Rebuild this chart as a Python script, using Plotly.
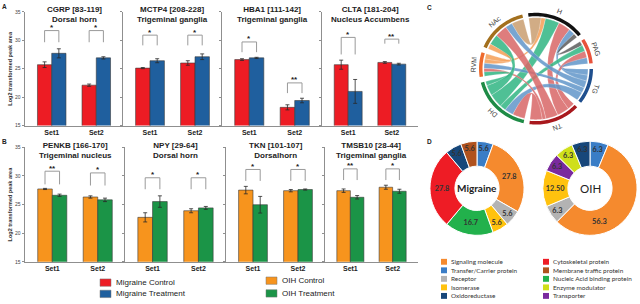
import numpy as np
import plotly.graph_objects as go

# ---------------- data ----------------
sets = ["Set1", "Set2"]

a_titles = ["CGRP [83-119]<br>Dorsal horn", "MCTP4 [208-228]<br>Trigeminal ganglia",
            "HBA1 [111-142]<br>Trigeminal ganglia", "CLTA [181-204]<br>Nucleus Accumbens"]
migraine_control = [[25.7, 22.1], [25.1, 26.0], [26.6, 18.2], [25.7, 26.1]]
migraine_control_err = [[0.5, 0.2], [0.1, 0.4], [0.15, 0.45], [0.8, 0.15]]
migraine_treatment = [[27.7, 26.9], [26.4, 27.1], [26.9, 19.4], [21.0, 25.8]]
migraine_treatment_err = [[0.8, 0.2], [0.35, 0.5], [0.1, 0.4], [2.1, 0.15]]
migraine_sig = [["*", "*"], ["*", "*"], ["*", "**"], ["*", "**"]]

b_titles = ["PENKB [166-170]<br>Trigeminal nucleus", "NPY [29-64]<br>Dorsal horn",
            "TKN [101-107]<br>Dorsalhorn", "TMSB10 [28-44]<br>Trigeminal ganglia"]
oih_control = [[27.7, 26.3], [22.75, 23.9], [27.5, 27.4], [27.4, 28.0]]
oih_control_err = [[0.1, 0.2], [0.8, 0.35], [0.65, 0.2], [0.3, 0.35]]
oih_treatment = [[26.6, 25.8], [25.5, 24.4], [24.95, 27.6], [26.25, 27.3]]
oih_treatment_err = [[0.2, 0.3], [1.0, 0.25], [1.45, 0.1], [0.3, 0.35]]
oih_sig = [["**", "*"], ["*", "*"], ["*", "*"], ["**", "*"]]

y_ticks = [15, 20, 25, 30, 35]

chord_regions = ["H", "PAG", "TG", "TN", "DH", "RVM", "NAc"]
chord_links = [
    ("H", "NAc", 14, "tan"), ("H", "RVM", 5, "orange"), ("H", "DH", 16, "teal"),
    ("H", "TN", 14, "salmon"), ("H", "TG", 7, "blue"), ("H", "PAG", 5, "gray"),
    ("PAG", "TN", 8, "salmon"), ("PAG", "DH", 7, "teal"), ("PAG", "TG", 7, "blue"),
    ("TG", "DH", 10, "blue"), ("TG", "RVM", 6, "blue"), ("TG", "NAc", 8, "blue"),
    ("TN", "DH", 14, "salmon"), ("TN", "NAc", 14, "salmon"), ("TN", "RVM", 4, "salmon"),
    ("DH", "RVM", 5, "teal"), ("DH", "NAc", 12, "teal"), ("RVM", "NAc", 6, "orange"),
]

migraine_classes = ["Transfer/Carrier protein", "Signaling molecule", "Receptor", "Isomerase",
                    "Nucleic Acid binding protein", "Cytoskeletal protein", "Oxidoreductase",
                    "Membrane traffic protein"]
migraine_pct = [5.6, 27.8, 5.6, 5.6, 16.7, 27.8, 5.6, 5.6]
migraine_text = ["5.6", "27.8", "5.6", "5.6", "16.7", "27.8", "5.6", "5.6"]
oih_classes = ["Transfer/Carrier protein", "Signaling molecule", "Receptor", "Isomerase",
               "Transporter", "Enzyme modulator", "Oxidoreductase"]
oih_pct = [6.3, 56.3, 6.3, 12.5, 6.3, 6.3, 6.3]
oih_text = ["6.3", "56.3", "6.3", "12.50", "6.3", "6.3", "6.3"]

legend_col1 = ["Signaling molecule", "Transfer/Carrier protein", "Receptor", "Isomerase", "Oxidoreductase"]
legend_col2 = ["Cytoskeletal protein", "Membrane traffic protein", "Nucleic Acid binding protein",
               "Enzyme modulator", "Transporter"]

# ---------------- styles / layout ----------------
W, H = 640, 304
FONT = "Arial, Liberation Sans, sans-serif"
FONT_D = "Lato, Open Sans, sans-serif"
RED, BLUE, ORANGE, GREEN = "#ED1C24", "#1F5F9E", "#F7941D", "#1B9447"
AXC = "#8f8f8f"

class_colors = {
    "Signaling molecule": "#F58A2E", "Transfer/Carrier protein": "#3A7DC6",
    "Receptor": "#B3B3B3", "Isomerase": "#FFC20E", "Oxidoreductase": "#17477A",
    "Cytoskeletal protein": "#EE1C25", "Membrane traffic protein": "#B0521E",
    "Nucleic Acid binding protein": "#22B14C", "Enzyme modulator": "#CFDF1A",
    "Transporter": "#7A2A9E",
}
chord_region_colors = {"H": "#111111", "PAG": "#E8533C", "TG": "#1F4F8E", "TN": "#A8181D",
                       "DH": "#1E8B46", "RVM": "#EE6A2D", "NAc": "#A3701E"}
ribbon_colors = {"teal": "rgba(50,182,132,0.86)", "salmon": "rgba(216,104,104,0.86)",
                 "blue": "rgba(98,150,202,0.86)", "tan": "rgba(203,160,116,0.88)",
                 "orange": "rgba(245,158,86,0.86)", "gray": "rgba(85,85,85,0.82)"}


def px(x):
    return x / W


def py(y):
    return 1 - y / H


def ann(x, y, text, size, color="#222", family=FONT, xanchor="center", yanchor="middle", **kw):
    fig.add_annotation(x=px(x), y=py(y), xref="paper", yref="paper", text=text, showarrow=False,
                       xanchor=xanchor, yanchor=yanchor,
                       font=dict(size=size, color=color, family=family), **kw)


A_DOM = [(25, 123), (123, 222), (222, 322), (322, 418)]
B_DOM = [(25, 125), (125, 226), (226, 325), (325, 418)]
A_Y = (9, 125)
B_Y = (147, 264)
BW = 0.32
XR = [-0.6, 1.6]

A_BRACKETS = [[(29.65, 31.7), (29.65, 31.7)], [(29.1, 30.9), (29.1, 30.9)],
              [(27.9, 29.7), (20.7, 22.5)], [(27.5, 30.5), (29.4, 30.2)]]
B_BRACKETS = [[(28.5, 30.8), (28.3, 30.5)], [(27.65, 29.65), (27.65, 29.65)],
              [(29.1, 31.1), (29.1, 31.1)], [(29.25, 31.2), (29.25, 31.2)]]

fig = go.Figure()
layout_axes = {}


def add_panel(n, dom, ydom, ctrl, cerr, trt, terr, ccol, tcol, title, sig, brackets):
    xa = "x" if n == 1 else f"x{n}"
    ya = "y" if n == 1 else f"y{n}"
    xs = list(range(len(sets)))
    for vals, errs, col, off in ((ctrl, cerr, ccol, -BW), (trt, terr, tcol, 0.0)):
        fig.add_trace(go.Bar(
            x=xs, y=vals, width=BW, offset=off, xaxis=xa, yaxis=ya,
            marker=dict(color=col, line=dict(color="#3a3a3a", width=0.6)),
            error_y=dict(type="data", array=errs, color="#2a2a2a", thickness=0.8, width=2),
            showlegend=False, hoverinfo="skip"))
    first = dom[0] == 25
    layout_axes["xaxis" if n == 1 else f"xaxis{n}"] = dict(
        domain=[px(dom[0]), px(dom[1])], range=XR, anchor=ya,
        tickvals=xs, ticktext=[f"<b>{s}</b>" for s in sets],
        tickfont=dict(size=7, color="#222", family=FONT), ticklen=0,
        showline=True, linecolor=AXC, linewidth=1, showgrid=False, zeroline=False)
    layout_axes["yaxis" if n == 1 else f"yaxis{n}"] = dict(
        domain=[py(ydom[1]), py(ydom[0])], range=[15, 35], anchor=xa,
        tickvals=y_ticks, showticklabels=first, ticks="outside", ticklen=2.5,
        tickcolor=AXC, tickfont=dict(size=5, color="#444", family=FONT),
        showline=True, linecolor=AXC, linewidth=1, showgrid=False, zeroline=False)
    for k in range(len(sets)):
        y0, y1 = brackets[k]
        xl, xr = k - BW / 2, k + BW / 2
        fig.add_shape(type="path", xref=xa, yref=ya,
                      path=f"M {xl},{y0} L {xl},{y1} L {xr},{y1} L {xr},{y0}",
                      line=dict(color="#9a9a9a", width=1))
        fig.add_annotation(x=k, y=y1, xref=xa, yref=ya, text=f"<b>{sig[k]}</b>", showarrow=False,
                           xanchor="center", yanchor="bottom", yshift=-3.5,
                           font=dict(size=8, color="#222", family=FONT))
    ann((dom[0] + dom[1]) / 2, ydom[0] - 8.5, f"<b>{title}</b>", 8, yanchor="top")


for i in range(4):
    add_panel(i + 1, A_DOM[i], A_Y, migraine_control[i], migraine_control_err[i],
              migraine_treatment[i], migraine_treatment_err[i], RED, BLUE, a_titles[i],
              migraine_sig[i], A_BRACKETS[i])
for i in range(4):
    add_panel(i + 5, B_DOM[i], B_Y, oih_control[i], oih_control_err[i],
              oih_treatment[i], oih_treatment_err[i], ORANGE, GREEN, b_titles[i],
              oih_sig[i], B_BRACKETS[i])

# y-axis titles
for yc in ((A_Y[0] + A_Y[1]) / 2, (B_Y[0] + B_Y[1]) / 2):
    ann(10, yc, "<b>Log2 transformed peak area</b>", 5.5, color="#333", textangle=-90)

# panel letters
for letter, (lx, ly) in {"A": (4, 4), "B": (4, 141), "C": (429, 5), "D": (429, 141)}.items():
    ann(lx, ly, f"<b>{letter}</b>", 6.5)

# A/B legend
ab_legend = [("Migraine Control", RED, 100, 281.5), ("Migraine Treatment", BLUE, 100, 293),
             ("OIH Control", ORANGE, 266, 279.5), ("OIH Treatment", GREEN, 266, 292.5)]
for name, col, lx, ly in ab_legend:
    fig.add_shape(type="rect", xref="paper", yref="paper", x0=px(lx), x1=px(lx + 11),
                  y0=py(ly + 7.5), y1=py(ly), fillcolor=col, line=dict(color="#777", width=0.5))
    ann(lx + 14, ly + 3.8, name, 8, xanchor="left")

# ---------------- chord diagram ----------------
n = len(chord_regions)
ridx = {r: i for i, r in enumerate(chord_regions)}
tot = {r: 0 for r in chord_regions}
for a, b, w, c in chord_links:
    tot[a] += w
    tot[b] += w
GAP, START = 6.0, -8.0
scale = (360 - n * GAP) / sum(tot.values())
arcs = {}
ang = START
for r in chord_regions:
    arcs[r] = (ang, ang + tot[r] * scale)
    ang += tot[r] * scale + GAP
ends = {}
for r in chord_regions:
    items = []
    for li, (a, b, w, c) in enumerate(chord_links):
        if a == r:
            items.append((li, b, w))
        elif b == r:
            items.append((li, a, w))
    items.sort(key=lambda t: -((ridx[t[1]] - ridx[r]) % n))
    a0 = arcs[r][0]
    for li, other, w in items:
        ends[(li, r)] = (a0, a0 + w * scale)
        a0 += w * scale


def pt(rad, th):
    t = np.radians(th)
    return rad * np.sin(t), rad * np.cos(t)


def arc_pts(rad, t0, t1, m=14):
    return [pt(rad, t) for t in np.linspace(t0, t1, m)]


def fmt(p):
    return f"{p[0]:.2f},{p[1]:.2f}"


R_IN, R_A0, R_A1 = 52.0, 53.5, 57.0
for li, (a, b, w, c) in enumerate(chord_links):
    s0, s1 = ends[(li, a)]
    e0, e1 = ends[(li, b)]
    p = arc_pts(R_IN, s0, s1)
    q = arc_pts(R_IN, e0, e1)
    path = "M " + fmt(p[0]) + " " + " ".join("L " + fmt(v) for v in p[1:])
    path += " Q 0,0 " + fmt(q[0]) + " " + " ".join("L " + fmt(v) for v in q[1:])
    path += " Q 0,0 " + fmt(p[0]) + " Z"
    fig.add_shape(type="path", xref="x9", yref="y9", path=path,
                  fillcolor=ribbon_colors[c], line=dict(color="rgba(255,255,255,0.6)", width=0.4),
                  layer="above")

for r in chord_regions:
    t0, t1 = arcs[r]
    outer = arc_pts(R_A1, t0, t1, 30)
    inner = arc_pts(R_A0, t1, t0, 30)
    path = "M " + fmt(outer[0]) + " " + " ".join("L " + fmt(v) for v in outer[1:] + inner) + " Z"
    fig.add_shape(type="path", xref="x9", yref="y9", path=path, fillcolor=chord_region_colors[r],
                  line=dict(width=0), layer="above")
    mid = (t0 + t1) / 2
    lx, ly = pt(63, mid)
    ta = mid if mid <= 180 else mid - 360
    fig.add_annotation(x=lx, y=ly, xref="x9", yref="y9", text=r, textangle=ta, showarrow=False,
                       xanchor="center", yanchor="middle",
                       font=dict(size=7, color="#444", family=FONT))

fig.add_trace(go.Scatter(x=[0], y=[0], xaxis="x9", yaxis="y9", mode="markers",
                         marker=dict(size=1, opacity=0), showlegend=False, hoverinfo="skip"))
layout_axes["xaxis9"] = dict(domain=[px(470), px(602)], range=[-66, 66], anchor="y9", visible=False)
layout_axes["yaxis9"] = dict(domain=[py(133), py(1)], range=[-66, 66], anchor="x9", visible=False)

# ---------------- donuts ----------------
HOLE = 0.47
for classes, pct, txt, cx, label, bold, lsize in (
        (migraine_classes, migraine_pct, migraine_text, 477, "Migraine", True, 10),
        (oih_classes, oih_pct, oih_text, 590, "OIH", False, 11.5)):
    r = 48
    cy = 189
    total = sum(pct)
    shown = []
    cum = 0.0
    for v, t in zip(pct, txt):
        if v / total > 0.5:
            # long slice: label sits further along the slice
            th = 360 * (cum + 0.7 * v) / total
            rr = r * (1 + HOLE) / 2
            fig.add_annotation(x=px(cx + rr * np.sin(np.radians(th))), y=py(cy - rr * np.cos(np.radians(th))),
                               xref="paper", yref="paper", text=t, showarrow=False,
                               xanchor="center", yanchor="middle",
                               font=dict(size=7.5, color="#333", family=FONT_D, weight="bold"))
            shown.append("")
        else:
            shown.append(t)
        cum += v
    fig.add_trace(go.Pie(
        values=pct, labels=classes, text=shown, textinfo="text", sort=False, direction="clockwise",
        rotation=0, hole=HOLE, textposition="inside", insidetextorientation="horizontal",
        marker=dict(colors=[class_colors[c] for c in classes], line=dict(color="white", width=1)),
        textfont=dict(size=7.5, color="#333", family=FONT_D, weight="bold"),
        domain=dict(x=[px(cx - r), px(cx + r)], y=[py(cy + r), py(cy - r)]),
        showlegend=False, hoverinfo="skip"))
    ann(cx, cy, f"<b>{label}</b>" if bold else label, lsize, family=FONT_D)

for col, x_sw in ((legend_col1, 441), (legend_col2, 543)):
    for k, name in enumerate(col):
        yc = 264 + k * 8.7
        fig.add_shape(type="rect", xref="paper", yref="paper", x0=px(x_sw), x1=px(x_sw + 6),
                      y0=py(yc + 3), y1=py(yc - 3), fillcolor=class_colors[name], line=dict(width=0))
        ann(x_sw + 8, yc, name, 6.4, color="#333", family=FONT_D, xanchor="left")

fig.update_layout(
    width=W, height=H, margin=dict(l=0, r=0, t=0, b=0),
    paper_bgcolor="white", plot_bgcolor="rgba(0,0,0,0)",
    barmode="overlay", uniformtext=dict(minsize=7, mode="show"),
    font=dict(family=FONT), **layout_axes)

fig.write_html("out.html", config={"displayModeBar": False, "staticPlot": True},
               post_script="document.body.style.margin='0';document.body.style.overflow='hidden';")
